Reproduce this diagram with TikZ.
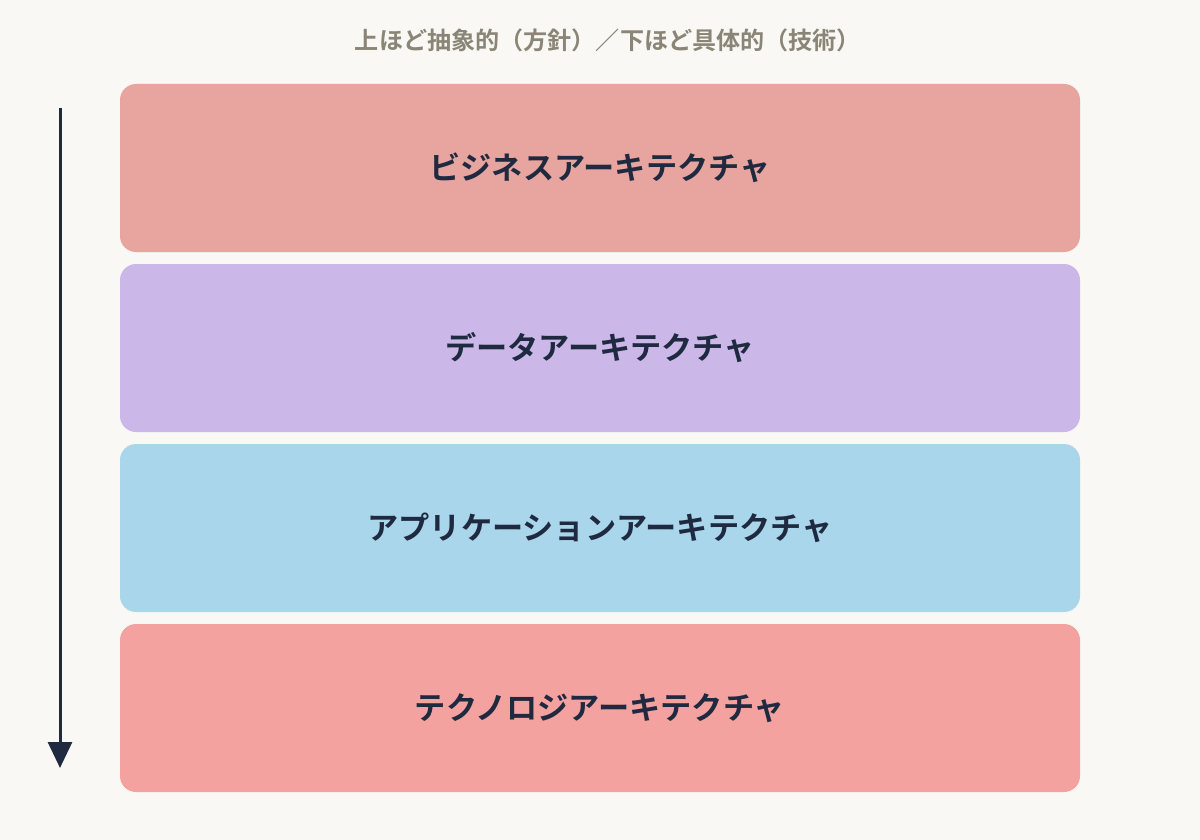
\documentclass[tikz,border=0pt]{standalone}
\usepackage{fontspec}
\newfontfamily\jp{Noto Sans CJK JP Bold}
\usetikzlibrary{arrows.meta}
\definecolor{bg}{HTML}{F9F8F4}
\definecolor{ink}{HTML}{1F2A40}
\definecolor{ttl}{HTML}{8A8576}
\definecolor{cA}{HTML}{E8A49E}
\definecolor{cB}{HTML}{CBB8E8}
\definecolor{cC}{HTML}{A9D6EB}
\definecolor{cD}{HTML}{F4A29F}
\tikzset{
  layer/.style={rounded corners=16pt, minimum width=960pt, minimum height=168pt, inner sep=0pt, text=ink, font=\jp\fontsize{31.2}{36}\selectfont},
}
\begin{document}
\begin{tikzpicture}[x=1pt,y=-1pt]
\fill[bg] (0,0) rectangle (1200,840);
\useasboundingbox (0,0) rectangle (1200,840);
\node[text=ttl, font=\jp\fontsize{24.1}{28}\selectfont] (title) at (608,40) {上ほど抽象的（方針）／下ほど具体的（技術）};
\node[layer, fill=cA] (biz) at (600,168) {ビジネスアーキテクチャ};
\node[layer, fill=cB] (data) at (600,348) {データアーキテクチャ};
\node[layer, fill=cC] (app) at (600,528) {アプリケーションアーキテクチャ};
\node[layer, fill=cD] (tech) at (600,708) {テクノロジアーキテクチャ};
\coordinate (top) at (60,108);
\coordinate (bot) at (60,768);
\draw[ink, line width=3pt, -{Triangle[length=26pt,width=24pt]}] (top) -- (bot);
\end{tikzpicture}
\end{document}
